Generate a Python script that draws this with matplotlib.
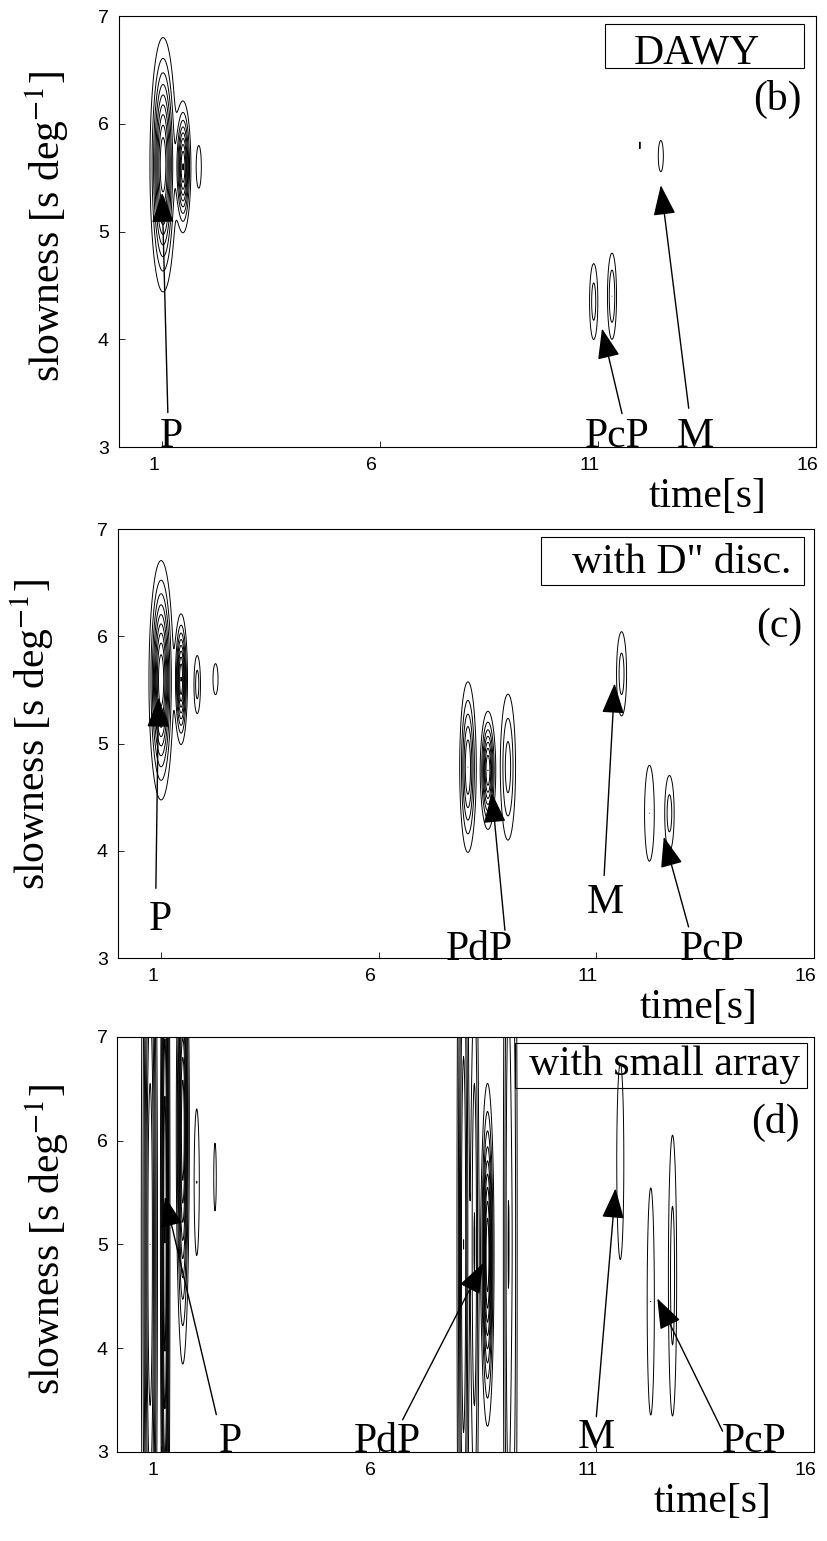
import numpy as np
import matplotlib
matplotlib.use('Agg')
import matplotlib.pyplot as plt
from matplotlib.patches import Rectangle
import matplotlib.transforms as mtransforms

plt.rcParams['mathtext.fontset'] = 'stix'

# contour peaks for each panel: time [s], slowness [s/deg], widths, amplitude
b_time = [1.02, 1.48, 1.84, 10.9, 11.32, 12.44, 11.96]
b_slow = [5.62, 5.60, 5.60, 4.35, 4.40, 5.70, 5.80]
b_twid = [0.14, 0.085, 0.065, 0.07, 0.07, 0.08, 0.02]
b_swid = [0.55, 0.29, 0.22, 0.26, 0.27, 0.20, 0.10]
b_amp = [1.0, 0.9, 0.15, 0.25, 0.30, 0.13, 0.105]

c_time = [1.0, 1.46, 1.83, 2.25, 8.05, 8.51, 8.97, 11.58, 12.22, 12.68]
c_slow = [5.59, 5.60, 5.55, 5.60, 4.78, 4.75, 4.78, 5.65, 4.35, 4.35]
c_twid = [0.13, 0.07, 0.055, 0.08, 0.10, 0.085, 0.11, 0.085, 0.095, 0.08]
c_swid = [0.52, 0.29, 0.20, 0.20, 0.42, 0.27, 0.43, 0.29, 0.38, 0.26]
c_amp = [1.0, 0.9, 0.25, 0.13, 0.6, 0.8, 0.35, 0.25, 0.2, 0.25]

d_time = [0.75, 1.09, 1.50, 1.82, 2.24, 7.95, 8.20, 8.50, 8.98, 9.12, 11.55, 12.25, 12.75]
d_slow = [5.0, 5.2, 6.1, 5.6, 5.65, 5.0, 5.0, 4.9, 5.0, 5.0, 5.8, 4.45, 4.7]
d_twid = [0.10, 0.055, 0.07, 0.05, 0.04, 0.08, 0.06, 0.07, 0.07, 0.05, 0.09, 0.07, 0.07]
d_swid = [3.0, 2.5, 1.05, 0.6, 0.45, 3.0, 2.0, 0.77, 3.0, 3.0, 1.05, 0.93, 1.0]
d_amp = [0.8, 0.9, 1.0, 0.2, 0.13, 0.6, 0.4, 1.0, 0.4, 0.2, 0.15, 0.2, 0.25]

# phase annotations: label, arrow tip, arrow tail, label position (time, slowness)
b_phase = ['P', 'PcP', 'M']
b_tip = [(1.0, 5.36), (11.09, 4.10), (12.44, 5.43)]
b_tail = [(1.13, 3.32), (11.55, 3.31), (13.08, 3.36)]
b_lab = [(1.22, 3.0), (11.43, 3.0), (13.22, 3.0)]

c_phase = ['P', 'PdP', 'M', 'PcP']
c_tip = [(0.94, 5.43), (8.6, 4.54), (11.42, 5.56), (12.55, 4.13)]
c_tail = [(0.88, 3.65), (8.9, 3.26), (11.18, 3.77), (13.12, 3.29)]
c_lab = [(0.98, 3.26), (8.31, 2.98), (11.2, 3.42), (13.67, 2.98)]

d_phase = ['P', 'PdP', 'M', 'PcP']
d_tip = [(1.09, 5.46), (8.4, 4.82), (11.44, 5.54), (12.4, 4.48)]
d_tail = [(2.27, 3.36), (6.55, 3.31), (11.0, 3.34), (13.9, 3.2)]
d_lab = [(2.59, 3.0), (6.21, 3.0), (10.99, 3.04), (14.63, 3.0)]

titles = ['DAWY', 'with D" disc.', 'with small array']
tags = ['(b)', '(c)', '(d)']
xticks = [1, 6, 11, 16]
yticks = [3, 4, 5, 6, 7]

serif = 'Liberation Serif'
sans = 'Liberation Sans'

t = np.linspace(0, 16, 1601)
s = np.linspace(3, 7, 401)
T, S = np.meshgrid(t, s)


def field(tt, ss, tw, sw, amp):
    z = np.zeros_like(T)
    for a, b, c, d, e in zip(tt, ss, tw, sw, amp):
        z += e * np.exp(-0.5 * ((T - a) / c) ** 2 - 0.5 * ((S - b) / d) ** 2)
    return z


fig = plt.figure(figsize=(8.28, 15.41), dpi=100)
axpos = [[0.1432, 0.7099, 0.8423, 0.2797],
         [0.1420, 0.3783, 0.8410, 0.2784],
         [0.1419, 0.0578, 0.8412, 0.2693]]
# box (x0, y0, x1, y1), title anchor, tag anchor, ylabel x (axes fraction)
boxes = [(0.697, 0.879, 0.983, 0.981), (0.608, 0.869, 0.986, 0.981), (0.571, 0.877, 0.990, 0.986)]
title_xy = [(0.829, 0.891, 'center'), (0.968, 0.897, 'right'), (0.980, 0.908, 'right')]
tag_xy = [(0.980, 0.782), (0.983, 0.748), (0.980, 0.769)]
ylab_xy = [(-0.084, 0.513), (-0.104, 0.522), (-0.082, 0.511)]
xlab_x = [0.845, 0.834, 0.855]

panels = [
    (field(b_time, b_slow, b_twid, b_swid, b_amp), b_phase, b_tip, b_tail, b_lab),
    (field(c_time, c_slow, c_twid, c_swid, c_amp), c_phase, c_tip, c_tail, c_lab),
    (field(d_time, d_slow, d_twid, d_swid, d_amp), d_phase, d_tip, d_tail, d_lab),
]

levels = np.arange(0.1, 1.0, 0.1)

for i, (z, phase, tip, tail, lab) in enumerate(panels):
    ax = fig.add_axes(axpos[i])
    ax.contour(T, S, z, levels=levels, colors='k', linewidths=0.7)
    ax.set_xlim(0, 16)
    ax.set_ylim(3, 7)
    ax.set_xticks(xticks)
    ax.set_yticks(yticks)
    ax.tick_params(direction='in', length=4, width=0.6, top=False, right=False,
                   labelsize=14, pad=7)
    for lbl in ax.get_xticklabels() + ax.get_yticklabels():
        lbl.set_family(sans)
    off = mtransforms.ScaledTranslation(-6 / 72, 0, fig.dpi_scale_trans)
    for lbl in ax.get_xticklabels():
        lbl.set_transform(lbl.get_transform() + off)
    for sp in ax.spines.values():
        sp.set_linewidth(0.8)

    for name, p1, p0, pl in zip(phase, tip, tail, lab):
        ax.annotate('', xy=p1, xytext=p0,
                    arrowprops=dict(arrowstyle='-|>,head_length=19,head_width=7',
                                    mutation_scale=1, lw=1.0, color='k',
                                    shrinkA=0, shrinkB=0))
        ax.text(pl[0], pl[1], name, family=serif, fontsize=30,
                ha='center', va='baseline')

    x0, y0, x1, y1 = boxes[i]
    ax.add_patch(Rectangle((x0, y0), x1 - x0, y1 - y0, transform=ax.transAxes,
                           fill=False, lw=0.8, ec='k'))
    tx, ty, ha = title_xy[i]
    ax.text(tx, ty, titles[i], transform=ax.transAxes, family=serif,
            fontsize=30, ha=ha, va='baseline')
    ax.text(tag_xy[i][0], tag_xy[i][1], tags[i], transform=ax.transAxes,
            family=serif, fontsize=30, ha='right', va='baseline')

    ax.text(ylab_xy[i][0], ylab_xy[i][1], 'slowness [s deg$^{-1}$]',
            transform=ax.transAxes, family=serif, fontsize=30, rotation=90,
            rotation_mode='anchor', ha='center', va='baseline')
    ax.annotate('time[s]', xy=(xlab_x[i], 0), xycoords='axes fraction',
                xytext=(0, -36), textcoords='offset points', family=serif,
                fontsize=30, ha='center', va='center')

fig.savefig('out.png', dpi=100)
